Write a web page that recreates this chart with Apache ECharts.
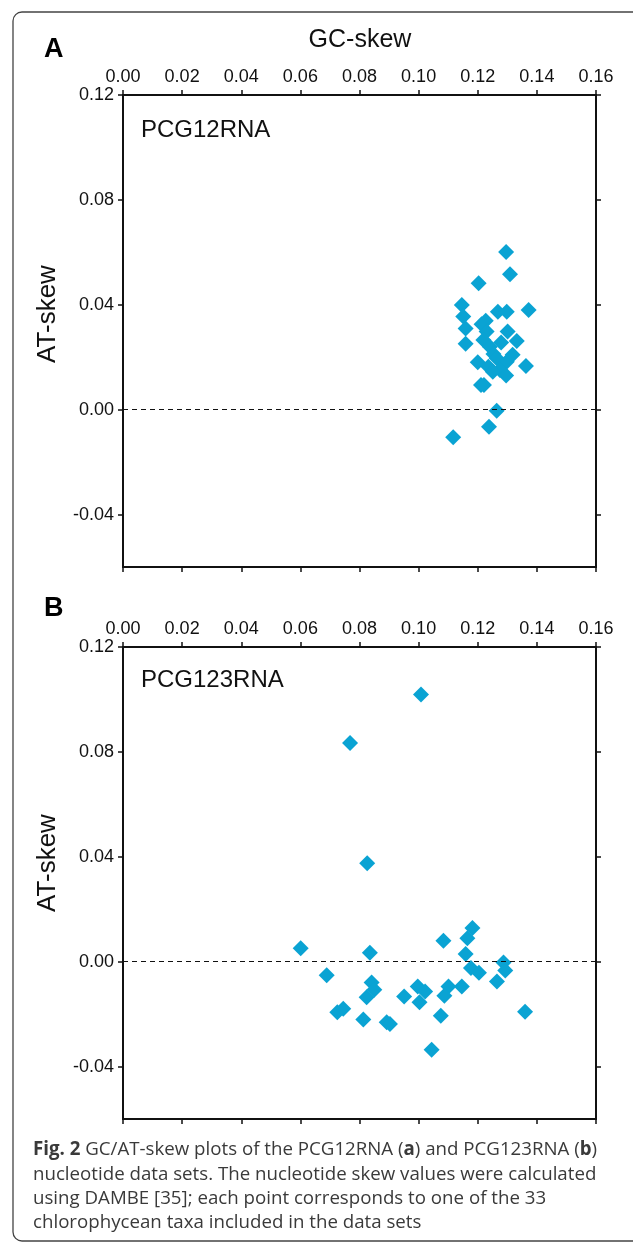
<!DOCTYPE html>
<html>
<head>
<meta charset="utf-8">
<script src="https://cdn.jsdelivr.net/npm/echarts@6/dist/echarts.min.js"></script>
<style>
html,body{margin:0;padding:0;background:#fff;}
#chart{width:633px;height:1245px;}
</style>
</head>
<body>
<div id="chart"></div>
<script>
// Panel A: PCG12RNA
const gcSkewA = [0.1296,0.1309,0.1203,0.1146,0.1151,0.1159,0.1159,0.1268,0.1298,0.1372,0.1213,0.1227,0.1230,0.1219,0.1301,0.1279,0.1332,0.1241,0.1253,0.1318,0.1200,0.1264,0.1298,0.1236,0.1363,0.1275,0.1296,0.1251,0.1211,0.1221,0.1264,0.1238,0.1117];
const atSkewA = [0.0601,0.0516,0.0482,0.0399,0.0355,0.0310,0.0251,0.0373,0.0373,0.0380,0.0326,0.0339,0.0298,0.0266,0.0298,0.0256,0.0262,0.0240,0.0212,0.0209,0.0181,0.0196,0.0183,0.0164,0.0167,0.0151,0.0130,0.0145,0.0094,0.0094,-0.0004,-0.0065,-0.0105];
// Panel B: PCG123RNA
const gcSkewB = [0.1008,0.0768,0.0826,0.0601,0.0835,0.1084,0.1182,0.1165,0.1159,0.0689,0.0841,0.0850,0.0824,0.0951,0.0997,0.1022,0.1003,0.1101,0.1087,0.1146,0.1177,0.1204,0.1287,0.1293,0.1265,0.1360,0.0725,0.0745,0.0813,0.0892,0.0903,0.1075,0.1044];
const atSkewB = [0.1019,0.0834,0.0375,0.0051,0.0034,0.0080,0.0128,0.0089,0.0029,-0.0052,-0.0079,-0.0107,-0.0136,-0.0133,-0.0095,-0.0114,-0.0155,-0.0095,-0.0130,-0.0095,-0.0024,-0.0042,-0.0003,-0.0034,-0.0076,-0.0191,-0.0193,-0.0180,-0.0221,-0.0231,-0.0238,-0.0206,-0.0336];

const xTickValues = [0, 0.02, 0.04, 0.06, 0.08, 0.10, 0.12, 0.14, 0.16];
const yTickValues = [-0.04, 0, 0.04, 0.08, 0.12];
const panelNames = ['PCG12RNA', 'PCG123RNA'];
const panelLetters = ['A', 'B'];

const AX = '#111';
const tickFont = '"Liberation Sans", Arial, sans-serif';

function xAxisDef(grid, pos, showLabel) {
  return {
    gridIndex: grid, type: 'value', position: pos, min: 0, max: 0.16, interval: 0.02,
    axisLine: {show: true, onZero: false, lineStyle: {color: AX, width: 2}},
    axisTick: {show: true, inside: false, length: 5, customValues: xTickValues, lineStyle: {color: AX, width: 1.5}},
    axisLabel: {show: showLabel, customValues: xTickValues, formatter: v => v.toFixed(2), fontSize: 18, color: AX, margin: 9, fontFamily: tickFont},
    splitLine: {show: false}
  };
}
function yAxisDef(grid, pos, showLabel) {
  return {
    gridIndex: grid, type: 'value', position: pos, min: -0.06, max: 0.12, interval: 0.02,
    axisLine: {show: true, onZero: false, lineStyle: {color: AX, width: 2}},
    axisTick: {show: true, inside: false, length: 5, customValues: yTickValues, lineStyle: {color: AX, width: 1.5}},
    axisLabel: {show: showLabel, customValues: yTickValues, formatter: v => v.toFixed(2), fontSize: 18, color: AX, margin: 9, fontFamily: tickFont},
    splitLine: {show: false}
  };
}

function pairs(xs, ys) { return xs.map((x, i) => [x, ys[i]]); }

const gridTops = [95, 647];
const grids = gridTops.map(t => ({left: 123, top: t, width: 473, height: 472}));

const xAxes = [], yAxes = [];
grids.forEach((g, i) => {
  xAxes.push(xAxisDef(i, 'top', true));
  xAxes.push(xAxisDef(i, 'bottom', false));
  yAxes.push(yAxisDef(i, 'left', true));
  yAxes.push(yAxisDef(i, 'right', false));
});

const dataSets = [pairs(gcSkewA, atSkewA), pairs(gcSkewB, atSkewB)];
const series = dataSets.map((d, i) => ({
  type: 'scatter', xAxisIndex: i * 2, yAxisIndex: i * 2, data: d,
  symbol: 'diamond', symbolSize: 16,
  itemStyle: {color: '#0aa3d3', opacity: 1},
  markLine: {
    silent: true, symbol: ['none', 'none'], label: {show: false},
    lineStyle: {type: [5, 4], color: AX, width: 1},
    data: [{yAxis: 0}], animation: false
  },
  z: 3
}));

const titleFont = '"Liberation Sans", Arial, sans-serif';
const graphics = [
  {type: 'rect', shape: {x: 13, y: 12, width: 680, height: 1229, r: 9}, style: {fill: 'none', stroke: '#444', lineWidth: 1.3}, z: 0},
  {type: 'text', x: 360, y: 40, style: {text: 'GC-skew', font: '25px ' + titleFont, fill: AX, textAlign: 'center', textVerticalAlign: 'middle'}},
];
const letterY = [50, 609];
const pcgY = [130, 680];
const atY = [314, 863];
[0, 1].forEach(i => {
  graphics.push({type: 'text', x: 44, y: letterY[i], style: {text: panelLetters[i], font: 'bold 27px ' + titleFont, fill: '#000', textVerticalAlign: 'middle'}});
  graphics.push({type: 'text', x: 141, y: pcgY[i], style: {text: panelNames[i], font: '24px ' + titleFont, fill: AX, textVerticalAlign: 'middle'}});
  graphics.push({type: 'text', x: 48, y: atY[i], rotation: Math.PI / 2, style: {text: 'AT-skew', font: '26px ' + titleFont, fill: AX, textAlign: 'center', textVerticalAlign: 'middle'}});
});
graphics.push({
  type: 'text', x: 33, y: 1138,
  style: {
    text: '{b|Fig. 2} GC/AT-skew plots of the PCG12RNA ({b|a}) and PCG123RNA ({b|b})\nnucleotide data sets. The nucleotide skew values were calculated\nusing DAMBE [35]; each point corresponds to one of the 33\nchlorophycean taxa included in the data sets',
    font: '18.7px "Open Sans", sans-serif', fill: '#3a3a3a', lineHeight: 24.3,
    rich: {b: {fontWeight: 'bold', fontFamily: 'Open Sans', fontSize: 18.7, fill: '#3a3a3a', lineHeight: 24.3}}
  }
});

const chart = echarts.init(document.getElementById('chart'), null, {renderer: 'canvas'});
chart.setOption({
  animation: false,
  backgroundColor: '#fff',
  grid: grids,
  xAxis: xAxes,
  yAxis: yAxes,
  series: series,
  graphic: graphics
});
</script>
</body>
</html>
